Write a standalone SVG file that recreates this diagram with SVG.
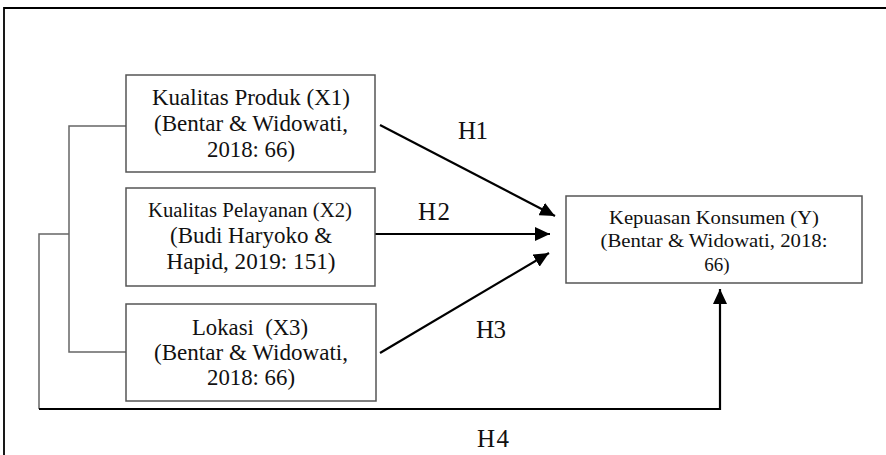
<svg xmlns="http://www.w3.org/2000/svg" width="886" height="455" viewBox="0 0 886 455">
<style>
.box{fill:#fff;stroke:#555;stroke-width:1.5}
.t{font-family:"Liberation Serif","Times New Roman",serif;font-size:23px;fill:#111;text-anchor:middle}
.ty{font-family:"Liberation Serif","Times New Roman",serif;font-size:19px;fill:#111;text-anchor:middle}
.h{font-family:"Liberation Serif","Times New Roman",serif;font-size:25px;fill:#111}
.grey{fill:none;stroke:#666;stroke-width:1.5}
.arr{fill:none;stroke:#000;stroke-width:2.2}
</style>
<defs>
<marker id="ah" markerUnits="userSpaceOnUse" markerWidth="16" markerHeight="14" refX="15" refY="7" orient="auto">
<path d="M0,0 L15,7 L0,14 Z" fill="#000"/>
</marker>
</defs>
<rect width="886" height="455" fill="#fff"/>
<path d="M4,455 V8 H886" fill="none" stroke="#000" stroke-width="1.8"/>
<g id="connectors">
<path class="grey" d="M126,126 H69 V352 H126 M69,234 H39 V409"/>
<path class="arr" d="M39,409 H720 V289" marker-end="url(#ah)" stroke-width="1.8"/>
<line class="arr" x1="380" y1="125" x2="555" y2="216" marker-end="url(#ah)"/>
<line class="arr" x1="375" y1="234" x2="550" y2="234" marker-end="url(#ah)"/>
<line class="arr" x1="380" y1="353" x2="549" y2="253" marker-end="url(#ah)"/>
<text class="h" x="458" y="139" textLength="30">H1</text>
<text class="h" x="418" y="220" textLength="32">H2</text>
<text class="h" x="476" y="338" textLength="30">H3</text>
<text class="h" x="477" y="447" textLength="32">H4</text>
</g>
<g id="x1">
<rect class="box" x="126" y="75" width="249" height="97"/>
<text class="t" x="251" y="105" textLength="198" lengthAdjust="spacingAndGlyphs">Kualitas Produk (X1)</text>
<text class="t" x="251" y="131" textLength="194" lengthAdjust="spacingAndGlyphs">(Bentar &amp; Widowati,</text>
<text class="t" x="251" y="157" textLength="88" lengthAdjust="spacingAndGlyphs">2018: 66)</text>
</g>
<g id="x2">
<rect class="box" x="126" y="188" width="249" height="98"/>
<text class="t" x="250" y="217" textLength="204" lengthAdjust="spacingAndGlyphs" style="font-size:20px">Kualitas Pelayanan (X2)</text>
<text class="t" x="251" y="243" textLength="162" lengthAdjust="spacingAndGlyphs">(Budi Haryoko &amp;</text>
<text class="t" x="251" y="269" textLength="169" lengthAdjust="spacingAndGlyphs">Hapid, 2019: 151)</text>
</g>
<g id="x3">
<rect class="box" x="126" y="304" width="250" height="97"/>
<text class="t" x="250" y="335" textLength="116" lengthAdjust="spacingAndGlyphs" xml:space="preserve">Lokasi  (X3)</text>
<text class="t" x="251" y="360" textLength="194" lengthAdjust="spacingAndGlyphs">(Bentar &amp; Widowati,</text>
<text class="t" x="251" y="385" textLength="88" lengthAdjust="spacingAndGlyphs">2018: 66)</text>
</g>
<g id="y">
<rect class="box" x="566" y="196" width="296" height="87"/>
<text class="ty" x="714" y="224" textLength="210" lengthAdjust="spacingAndGlyphs">Kepuasan Konsumen (Y)</text>
<text class="ty" x="714" y="247" textLength="227" lengthAdjust="spacingAndGlyphs">(Bentar &amp; Widowati, 2018:</text>
<text class="ty" x="717" y="271">66)</text>
</g>
</svg>
